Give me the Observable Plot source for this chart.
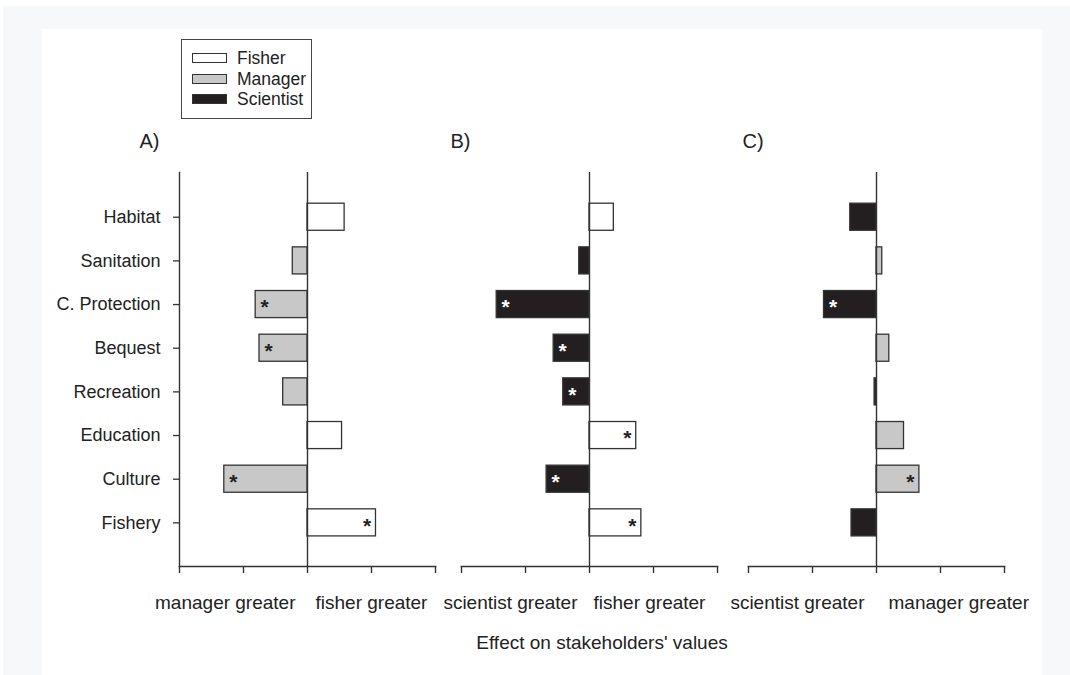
<!DOCTYPE html>
<html>
<head>
<meta charset="utf-8">
<script src="https://cdn.jsdelivr.net/npm/d3@7"></script>
<script src="https://cdn.jsdelivr.net/npm/@observablehq/plot@0.6"></script>
<style>
  html, body { margin: 0; padding: 0; background: #ffffff; }
  body { width: 1070px; height: 675px; position: relative; overflow: hidden;
         font-family: "Liberation Sans", Arial, sans-serif; color: #222; }
  .backdrop { position: absolute; left: 3px; top: 6px; width: 1067px; height: 669px; background: #f7f8fa; }
  .card { position: absolute; left: 42px; top: 29px; width: 1000px; height: 646px; background: #ffffff; }
  .panel { position: absolute; }
  .panel svg { overflow: visible; }
  .legend { position: absolute; left: 181px; top: 39px; width: 131px; height: 80px;
            border: 1px solid #444; background: #fff; box-sizing: border-box; }
  .legend .row { position: absolute; left: 10px; height: 20px; display: flex; align-items: center;
                 font-size: 17.5px; line-height: 20px; }
  .legend .sw { width: 35px; height: 10px; border: 1px solid #333; box-sizing: border-box; margin-right: 10px; }
  .xtitle { position: absolute; left: 0; width: 1204px; top: 632px; text-align: center; font-size: 19px; }
</style>
</head>
<body>
<div class="backdrop"></div>
<div class="card"></div>
<div id="root"></div>
<script>
// Value categories, shared by the three comparisons
const categories = ["Habitat", "Sanitation", "C. Protection", "Bequest", "Recreation", "Education", "Culture", "Fishery"];
const groups = ["Fisher", "Manager", "Scientist"];
const groupColors = ["#ffffff", "#c8c8c8", "#231f20"];

// A) fisher vs manager
const effectA = [0.58, -0.23, -0.81, -0.75, -0.38, 0.54, -1.30, 1.07];
const groupA = ["Fisher", "Manager", "Manager", "Manager", "Manager", "Fisher", "Manager", "Fisher"];
const sigA = [false, false, true, true, false, false, true, true];

// B) fisher vs scientist
const effectB = [0.38, -0.16, -1.45, -0.56, -0.41, 0.73, -0.67, 0.81];
const groupB = ["Fisher", "Scientist", "Scientist", "Scientist", "Scientist", "Fisher", "Scientist", "Fisher"];
const sigB = [false, false, true, true, true, true, true, true];

// C) manager vs scientist
const effectC = [-0.41, 0.09, -0.82, 0.20, -0.03, 0.43, 0.67, -0.39];
const groupC = ["Scientist", "Manager", "Scientist", "Manager", "Scientist", "Manager", "Manager", "Scientist"];
const sigC = [false, false, true, false, false, false, true, false];

const panelTitles = ["A)", "B)", "C)"];
const leftLabels = ["manager greater", "scientist greater", "scientist greater"];
const rightLabels = ["fisher greater", "fisher greater", "manager greater"];
const xTicks = [-2, -1, 0, 1, 2];
const axisTitle = "Effect on stakeholders' values";

function rows(effect, group, sig) {
  return categories.map((c, i) => ({category: c, value: effect[i], group: group[i], sig: sig[i]}));
}

const ink = "#222";
const axisInk = "#333";

// significance markers, placed just inside the outer end of each bar
function asterisks(data, positive, white) {
  const subset = data.filter(d => d.sig && (d.value > 0) === positive && (d.group === "Scientist") === white);
  return Plot.text(subset, {
    x: "value", y: "category", text: () => "*",
    dx: positive ? -9 : 9, dy: 3,
    fill: white ? "#ffffff" : ink,
    fontSize: 21, fontWeight: "bold"
  });
}

function panel(i, data, opts) {
  const marginTop = 52, marginBottom = 94, frameW = 256;
  const chart = Plot.plot({
    width: opts.marginLeft + frameW + 40,
    height: 540,
    marginTop, marginBottom,
    marginLeft: opts.marginLeft,
    marginRight: 40,
    style: {fontFamily: '"Liberation Sans", Arial, sans-serif', fontSize: "18px", color: ink, background: "transparent"},
    x: {domain: [-2, 2]},
    y: {domain: categories, range: [66.6, 432.5], padding: 0.38, round: false},
    color: {domain: groups, range: groupColors},
    marks: [
      Plot.barX(data, {x: "value", y: "category", fill: "group", stroke: axisInk, strokeWidth: 1.3}),
      Plot.ruleX([0], {stroke: axisInk, strokeWidth: 1.4}),
      Plot.frame({anchor: "bottom", stroke: axisInk, strokeWidth: 1.6}),
      opts.yAxis ? Plot.frame({anchor: "left", stroke: axisInk, strokeWidth: 1.4}) : null,
      opts.yAxis
        ? Plot.axisY({tickSize: 6, tickPadding: 13, label: null, fontSize: 18, stroke: axisInk, strokeWidth: 1.3})
        : Plot.axisY({ticks: [], label: null}),
      Plot.axisX({ticks: xTicks, tickFormat: () => "", tickSize: 7, label: null, stroke: axisInk, strokeWidth: 1.4}),
      asterisks(data, true, false),
      asterisks(data, true, true),
      asterisks(data, false, false),
      asterisks(data, false, true),
      // direction labels under the axis
      Plot.text([leftLabels[i]], {x: 0, frameAnchor: "bottom", textAnchor: "end", lineAnchor: "bottom",
        dx: -12, dy: 42, fontSize: 19, fill: ink}),
      Plot.text([rightLabels[i]], {x: 0, frameAnchor: "bottom", textAnchor: "start", lineAnchor: "bottom",
        dx: opts.rightGap, dy: 42, fontSize: 19, fill: ink}),
      // panel letter
      Plot.text([panelTitles[i]], {frameAnchor: "top-left", textAnchor: "start", lineAnchor: "bottom",
        dx: opts.titleDx, dy: -25, fontSize: 20, fill: ink})
    ]
  });
  const wrap = document.createElement("div");
  wrap.className = "panel";
  wrap.style.left = opts.left + "px";
  wrap.style.top = "120px";
  wrap.appendChild(chart);
  document.getElementById("root").appendChild(wrap);
}

panel(0, rows(effectA, groupA, sigA), {left: 60, marginLeft: 119, yAxis: true, rightGap: 8, titleDx: -40});
panel(1, rows(effectB, groupB, sigB), {left: 440, marginLeft: 21, yAxis: false, rightGap: 4, titleDx: -11});
panel(2, rows(effectC, groupC, sigC), {left: 720, marginLeft: 28, yAxis: false, rightGap: 12, titleDx: -6});

// legend
const legend = document.createElement("div");
legend.className = "legend";
groups.forEach((g, k) => {
  const row = document.createElement("div");
  row.className = "row";
  row.style.top = (8 + k * 20.5) + "px";
  const sw = document.createElement("div");
  sw.className = "sw";
  sw.style.background = groupColors[k];
  const label = document.createElement("span");
  label.textContent = g;
  row.appendChild(sw);
  row.appendChild(label);
  legend.appendChild(row);
});
document.getElementById("root").appendChild(legend);

// shared x title
const xt = document.createElement("div");
xt.className = "xtitle";
xt.textContent = axisTitle;
document.getElementById("root").appendChild(xt);
</script>
</body>
</html>
